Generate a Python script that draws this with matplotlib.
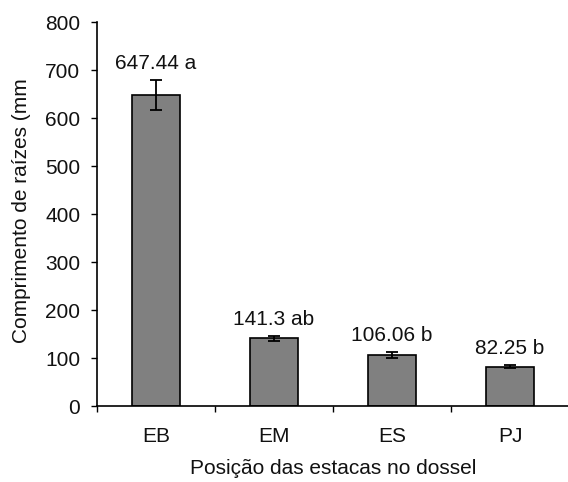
import matplotlib
matplotlib.use("Agg")
import matplotlib.pyplot as plt
import numpy as np

categories = ["EB", "EM", "ES", "PJ"]
values = [647.44, 141.3, 106.06, 82.25]
errors = [31, 5.5, 6, 3]
letters = ["a", "ab", "b", "b"]
yticks = [0, 100, 200, 300, 400, 500, 600, 700, 800]

plt.rcParams['font.family'] = ['Liberation Sans', 'DejaVu Sans']

fig = plt.figure(figsize=(5.68, 4.82), dpi=100)
ax = fig.add_axes([97/568, 1-406/482, 472/568, (406-22)/482])

x = np.arange(len(categories))
ax.bar(x, values, width=0.41, color="#808080", edgecolor="black", linewidth=1.2, zorder=2)
ax.errorbar(x, values, yerr=errors, fmt="none", ecolor="black", elinewidth=1.3,
            capsize=4.3, capthick=1.3, zorder=3)

for xi, v, e, l in zip(x, values, errors, letters):
    ax.annotate(f"{v:g} {l}", xy=(xi, v + e), xytext=(0, 5), textcoords="offset points",
                ha="center", va="bottom", fontsize=15, color="#111111")

ax.set_xlim(-0.5, len(categories) - 0.5)
ax.set_ylim(0, 800)
ax.set_yticks(yticks)
ax.set_yticklabels([str(t) for t in yticks])

ax.set_xticks(np.arange(len(categories) + 1) - 0.5)
ax.set_xticklabels([])
ax.set_xticks(x, minor=True)
ax.set_xticklabels(categories, minor=True)
ax.tick_params(axis="x", which="major", direction="out", length=4, width=1)
ax.tick_params(axis="x", which="minor", length=0, pad=15, labelsize=15, labelcolor="#111111")
ax.tick_params(axis="y", direction="out", length=4, width=1, pad=8, labelsize=15, labelcolor="#111111")

for s in ["top", "right"]:
    ax.spines[s].set_visible(False)
ax.spines["left"].set_linewidth(1.2)
ax.spines["bottom"].set_linewidth(1.2)

ax.set_xlabel("Posição das estacas no dossel", fontsize=15, color="#111111", va="center")
ax.xaxis.set_label_coords(0.5, -(469-406)/384)
fig.text(22/568, 1-211/482, "Comprimento de raízes (mm", rotation=90, fontsize=15,
         ha="center", va="center", color="#111111")

fig.savefig("out.png", dpi=100)
